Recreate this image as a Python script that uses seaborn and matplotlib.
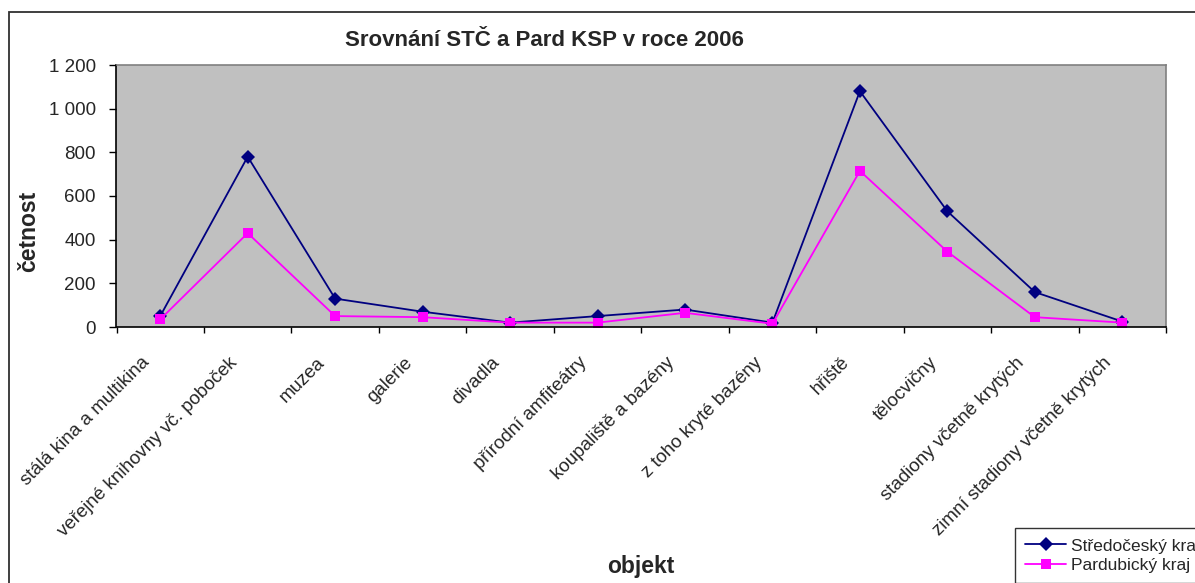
import numpy as np
import pandas as pd
import matplotlib
matplotlib.use("Agg")
import matplotlib.pyplot as plt
from matplotlib.patches import Rectangle
from matplotlib.ticker import FuncFormatter
from matplotlib.transforms import ScaledTranslation
import seaborn as sns

# data
objekty = ["stálá kina a multikina", "veřejné knihovny vč. poboček", "muzea", "galerie",
           "divadla", "přírodní amfiteátry", "koupaliště a bazény", "z toho kryté bazény",
           "hřiště", "tělocvičny", "stadiony včetně krytých", "zimní stadiony včetně krytých"]
stredocesky = [50, 780, 130, 70, 20, 50, 80, 20, 1080, 530, 160, 25]
pardubicky = [35, 430, 50, 45, 20, 20, 65, 15, 715, 345, 45, 20]
serie = ["Středočeský kraj", "Pardubický kraj"]

df = pd.DataFrame({
    "pozice": list(range(len(objekty))) * 2,
    "objekt": objekty * 2,
    "cetnost": stredocesky + pardubicky,
    "kraj": [serie[0]] * len(objekty) + [serie[1]] * len(objekty),
})

sns.set_style("white")
plt.rcParams["font.family"] = ["Liberation Sans", "DejaVu Sans"]

W, H = 1195, 583
fig = plt.figure(figsize=(W / 100, H / 100), dpi=100)
ax = fig.add_axes([116.5 / W, 1 - 327 / H, 1049.5 / W, 262 / H])
ax.set_facecolor("#c0c0c0")

sns.lineplot(data=df, x="pozice", y="cetnost", hue="kraj", style="kraj",
             palette={serie[0]: "#000080", serie[1]: "#ff00ff"},
             markers={serie[0]: "D", serie[1]: "s"}, dashes=False,
             markersize=7, linewidth=1.3, markeredgewidth=0, ax=ax)

ax.set_xlim(-0.5, len(objekty) - 0.5)
ax.set_ylim(0, 1200)
ax.set_yticks(range(0, 1201, 200))
ax.yaxis.set_major_formatter(FuncFormatter(lambda v, p: f"{int(v):,}".replace(",", " ")))
ax.set_xticks(np.arange(-0.5, len(objekty), 1))
ax.set_xticklabels([])
ax.tick_params(axis="x", length=4, width=1, color="black", direction="out", bottom=True)
ax.tick_params(axis="y", length=5, width=1, color="black", direction="out", left=True,
               labelsize=13.5, pad=10)

# category labels, rotated, hanging below the axis
lab_tr = ax.get_xaxis_transform() + ScaledTranslation(-0.19, -0.27, fig.dpi_scale_trans)
for i, name in enumerate(objekty):
    ax.text(i, 0, name, transform=lab_tr, rotation=45, ha="right", va="top",
            rotation_mode="anchor", fontsize=13.5)

for s in ["top", "right"]:
    ax.spines[s].set_color("#808080")
    ax.spines[s].set_linewidth(1.2)
for s in ["left", "bottom"]:
    ax.spines[s].set_color("black")
    ax.spines[s].set_linewidth(1.2)

ax.set_xlabel("")
ax.set_ylabel("")
fig.text(29 / W, 1 - 231 / H, "četnost", fontsize=16.5, fontweight="bold", rotation=90,
         ha="center", va="center")
fig.text(641 / W, 1 - 567 / H, "objekt", fontsize=16.5, fontweight="bold", ha="center", va="center")
fig.text(544 / W, 1 - 40 / H, "Srovnání STČ a Pard KSP v roce 2006", fontsize=16,
         fontweight="bold", ha="center", va="center")

# outer chart frame
fig.patches.append(Rectangle((9 / W, -0.1), 1.2, 1 - 12 / H + 0.1, transform=fig.transFigure,
                             fill=False, edgecolor="#303030", linewidth=1.3))

leg = ax.legend(loc="upper left", bbox_to_anchor=(1015 / W, 1 - 528 / H),
                bbox_transform=fig.transFigure, frameon=True, fancybox=False,
                fontsize=12.5, borderpad=0.6, borderaxespad=0, handlelength=2.35,
                handletextpad=0.3, labelspacing=0.25)
leg.get_frame().set_edgecolor("black")
leg.get_frame().set_linewidth(1)

fig.savefig("out.png", dpi=100)
